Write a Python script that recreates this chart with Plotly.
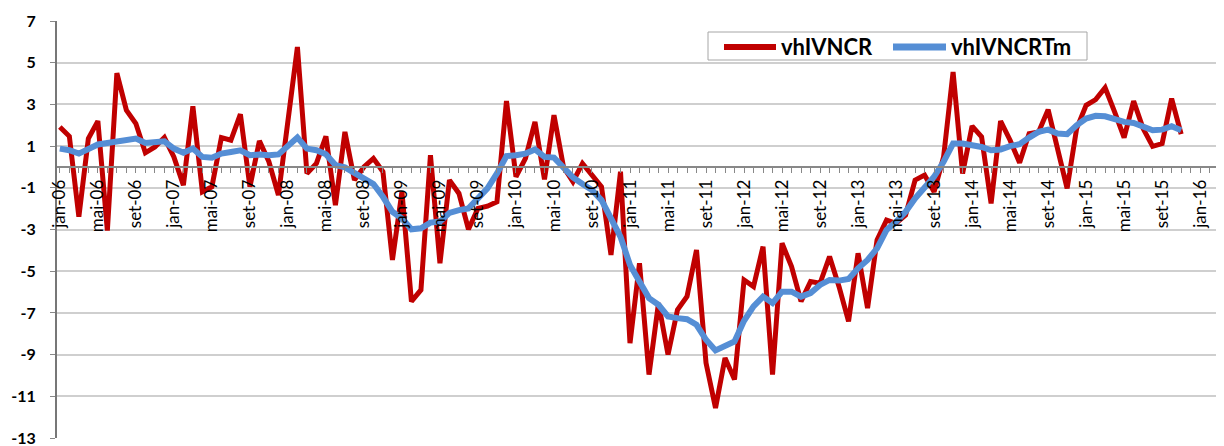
import plotly.graph_objects as go

# monthly series, jan-06 .. nov-15
months = [f"{m}-{y:02d}" for y in range(6, 16) for m in
          ["jan", "fev", "mar", "abr", "mai", "jun", "jul", "ago", "set", "out", "nov", "dez"]][:119]

vhIVNCR = [
    1.92, 1.47, -2.39, 1.36, 2.2, -3.05, 4.5, 2.72, 2.08, 0.68, 0.96, 1.41,
    0.48, -0.87, 2.91, -1.19, -0.95, 1.41, 1.28, 2.53, -0.95, 1.25, 0.25, -1.35,
    2.2, 5.75, -0.31, 0.17, 1.47, -1.83, 1.68, -0.63, 0.0, 0.41, -0.23, -4.46,
    -1.19, -6.45, -5.9, 0.56, -4.62, -0.63, -1.27, -2.99, -1.99, -1.88, -1.67, 3.16,
    -0.47, 0.41, 2.16, -0.6, 2.48, 0.0, -0.71, 0.17, -0.39, -0.95, -4.22, -0.23,
    -8.45, -4.62, -9.96, -6.53, -9.0, -6.85, -6.21, -3.98, -9.4, -11.56, -9.16, -10.2,
    -5.42, -5.74, -3.82, -9.96, -3.66, -4.78, -6.45, -5.5, -5.58, -4.3, -5.74, -7.41,
    -4.14, -6.77, -3.5, -2.55, -2.7, -2.31, -0.63, -0.39, -1.19, 0.48, 4.55, -0.31,
    1.96, 1.44, -1.75, 2.2, 1.28, 0.2, 1.6, 1.68, 2.75, 0.95, -1.03, 1.84,
    2.96, 3.23, 3.8, 2.64, 1.41, 3.16, 1.84, 0.99, 1.12, 3.28, 1.57,
]

vhIVNCRTm = [
    0.88, 0.8, 0.64, 0.86, 1.08, 1.15, 1.2, 1.25, 1.36, 1.15, 1.2, 1.23,
    0.88, 0.68, 0.88, 0.48, 0.44, 0.64, 0.72, 0.8, 0.56, 0.6, 0.56, 0.6,
    1.0, 1.41, 0.88, 0.8, 0.61, 0.09, -0.02, -0.31, -0.55, -0.82, -1.43, -2.15,
    -2.47, -2.99, -2.94, -2.67, -2.62, -2.2, -2.07, -1.99, -1.51, -1.03, -0.31, 0.52,
    0.56, 0.64, 0.84, 0.48, 0.45, -0.04, -0.5, -0.82, -1.11, -1.59, -2.47, -3.35,
    -4.7, -5.5, -6.29, -6.61, -7.17, -7.25, -7.3, -7.57, -8.29, -8.8, -8.61, -8.37,
    -7.38, -6.69, -6.22, -6.53, -5.98, -5.98, -6.22, -6.05, -5.66, -5.42, -5.45, -5.37,
    -4.86, -4.46, -3.9, -3.02, -2.63, -2.15, -1.51, -0.95, -0.47, 0.25, 1.12, 1.12,
    1.04, 0.96, 0.8, 0.84, 1.0, 1.09, 1.41, 1.68, 1.79, 1.6, 1.57, 2.0,
    2.32, 2.45, 2.43, 2.27, 2.16, 2.11, 1.95, 1.76, 1.79, 1.95, 1.76,
]

tick_idx = list(range(0, 121, 4))
tick_txt = [f"{['jan', 'mai', 'set'][(k // 4) % 3]}-{6 + k // 12:02d}" for k in tick_idx]
y_ticks = list(range(-13, 8, 2))

RED, BLUE = "#C00000", "#558ED5"
x = list(range(len(months)))

fig = go.Figure()
fig.add_trace(go.Scatter(x=x, y=vhIVNCR, name="vhIVNCR", mode="lines",
                         line=dict(color=RED, width=5), text=months))
fig.add_trace(go.Scatter(x=x, y=vhIVNCRTm, name="vhIVNCRTm", mode="lines",
                         line=dict(color=BLUE, width=6), text=months))

# page body has an 8px margin, so the figure is shifted by 8px
OFF = 8
W, H = 1224 - OFF, 446 - OFF
L, R, T, B = 57 - OFF, 2, 21 - OFF, 8
pw, ph = W - L - R, H - T - B


def px(v):  # window pixel -> paper x
    return (v - OFF - L) / pw


def py(v):  # window pixel -> paper y
    return (H - B - (v - OFF)) / ph


# hand-made legend box (Excel-like)
shapes = [
    dict(type="rect", xref="paper", yref="paper", x0=px(708), x1=px(1087), y0=py(60), y1=py(32),
         line=dict(color="#a6a6a6", width=1), fillcolor="white", layer="above"),
    dict(type="line", xref="paper", yref="paper", x0=px(724), x1=px(776), y0=py(47), y1=py(47),
         line=dict(color=RED, width=6), layer="above"),
    dict(type="line", xref="paper", yref="paper", x0=px(893), x1=px(946), y0=py(47), y1=py(47),
         line=dict(color=BLUE, width=7), layer="above"),
]
ann = [
    dict(text="<b>vhIVNCR</b>", x=px(779), y=py(47), xref="paper", yref="paper",
         xanchor="left", yanchor="middle", showarrow=False, font=dict(size=22, family="Lato")),
    dict(text="<b>vhIVNCRTm</b>", x=px(949), y=py(47), xref="paper", yref="paper",
         xanchor="left", yanchor="middle", showarrow=False, font=dict(size=22, family="Lato")),
]

fig.update_layout(
    width=W, height=H,
    margin=dict(l=L, r=R, t=T, b=B),
    paper_bgcolor="white", plot_bgcolor="white",
    font=dict(family="Lato", color="black"),
    showlegend=False,
    shapes=shapes, annotations=ann,
)
fig.update_xaxes(
    range=[-0.3, 122.3], anchor="free", position=0.65, automargin=False,
    tickmode="array", tickvals=tick_idx, ticktext=tick_txt, tickangle=-90,
    tickfont=dict(size=17, family="Lato"), ticklabeloverflow="allow",
    ticks="outside", ticklen=5, tickcolor="#888888", tickwidth=1,
    minor=dict(ticks="outside", ticklen=5, tickcolor="#888888", tick0=0, dtick=1),
    showline=True, linecolor="#888888", linewidth=2,
    showgrid=False, zeroline=False,
)
fig.update_yaxes(
    range=[-13, 7], domain=[0, 1], automargin=False,
    tickmode="array", tickvals=y_ticks, ticktext=[f"<b>{v}</b>" for v in y_ticks],
    tickfont=dict(size=16, family="Lato", weight="bold"),
    ticklabeloverflow="allow", ticklabelstandoff=11,
    ticks="outside", ticklen=5, tickcolor="#888888",
    showline=True, linecolor="#777777", linewidth=2,
    showgrid=True, gridcolor="#cfcfcf", gridwidth=1.5, zeroline=False,
)

fig.write_html("out.html")
